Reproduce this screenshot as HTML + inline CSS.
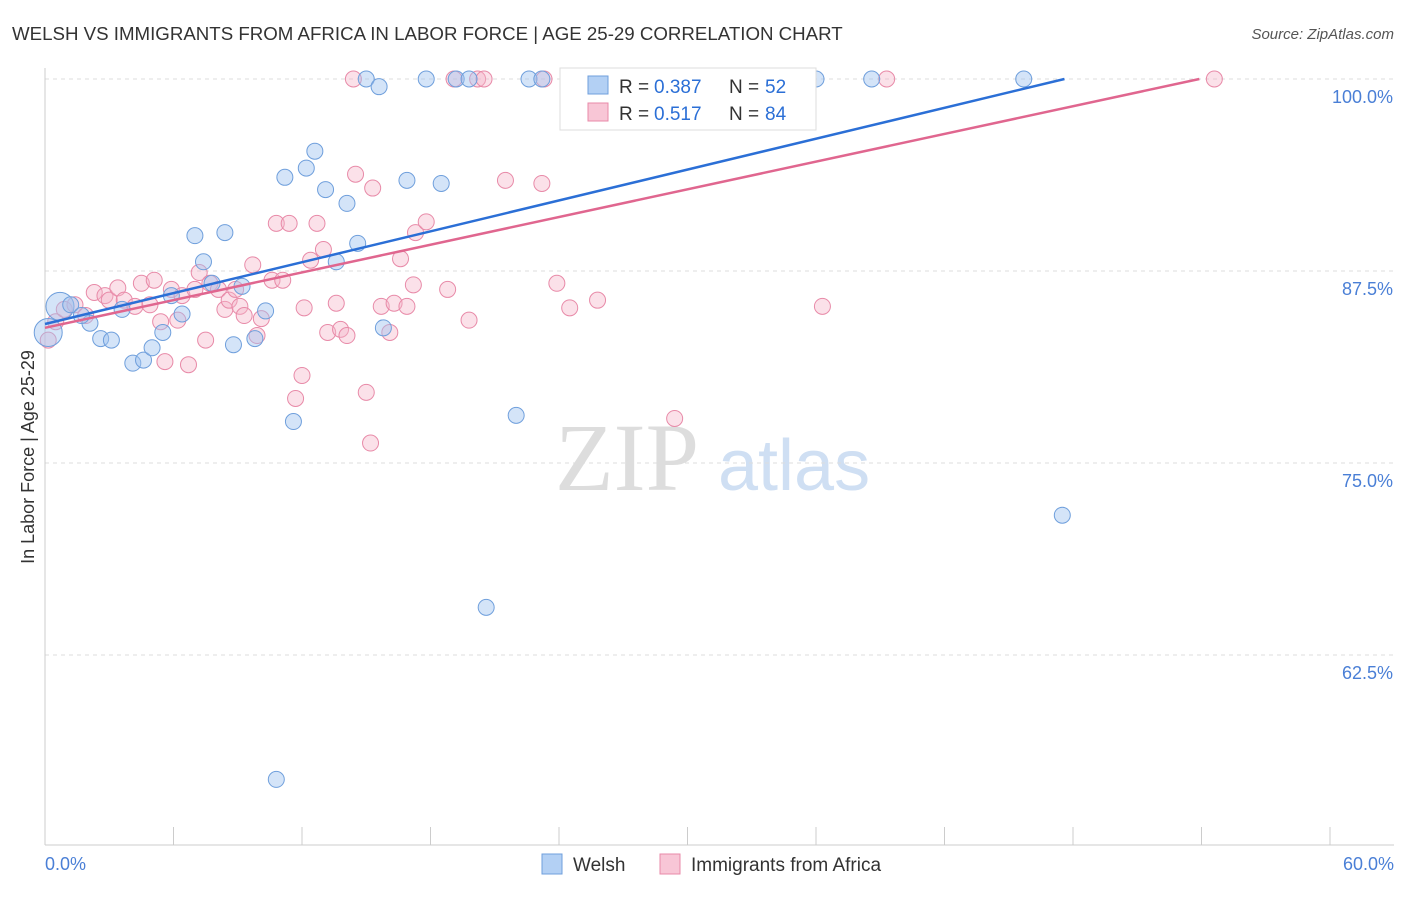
<!DOCTYPE html>
<html><head><meta charset="utf-8"><style>
body{margin:0;background:#fff;font-family:"Liberation Sans",sans-serif;}
</style></head><body>
<svg id="chart" width="1406" height="892" xmlns="http://www.w3.org/2000/svg">
<text x="12" y="40" font-size="18.7" fill="#333">WELSH VS IMMIGRANTS FROM AFRICA IN LABOR FORCE | AGE 25-29 CORRELATION CHART</text>
<text x="1394" y="39" font-size="15" fill="#555" font-style="italic" text-anchor="end">Source: ZipAtlas.com</text>
<text x="555" y="490" font-size="96" fill="#ddd" font-family="Liberation Serif,serif">ZIP</text>
<text x="718" y="490" font-size="72" fill="#cfdff3">atlas</text>
<text transform="translate(34,457) rotate(-90)" font-size="18" fill="#333" text-anchor="middle">In Labor Force | Age 25-29</text>
<g id="grid"></g><g id="ticks"></g><g id="pts"></g><g id="lines"></g>
<g>
<rect x="560" y="68" width="256" height="62" fill="#fff" stroke="#ddd"/>
<rect x="588" y="76" width="20" height="18" fill="#b3d0f4" stroke="#6f9fdc"/>
<text x="619" y="93" font-size="19" fill="#333">R = </text>
<text x="654" y="93" font-size="19" fill="#2b6fd6">0.387</text>
<text x="729" y="93" font-size="19" fill="#333">N = </text>
<text x="765" y="93" font-size="19" fill="#2b6fd6">52</text>
<rect x="588" y="103" width="20" height="18" fill="#f8c6d6" stroke="#e88aa8"/>
<text x="619" y="120" font-size="19" fill="#333">R = </text>
<text x="654" y="120" font-size="19" fill="#2b6fd6">0.517</text>
<text x="729" y="120" font-size="19" fill="#333">N = </text>
<text x="765" y="120" font-size="19" fill="#2b6fd6">84</text>
</g>
<rect x="542" y="854" width="20" height="20" fill="#b3d0f4" stroke="#6f9fdc"/>
<text x="573" y="871" font-size="19" fill="#333">Welsh</text>
<rect x="660" y="854" width="20" height="20" fill="#f8c6d6" stroke="#e88aa8"/>
<text x="691" y="871" font-size="19" fill="#333">Immigrants from Africa</text>
<text x="45" y="870" font-size="18" fill="#4a7fd6">0.0%</text>
<text x="1394" y="870" font-size="18" fill="#4a7fd6" text-anchor="end">60.0%</text>
</svg>
<script>
const yTicks=[100,87.5,75,62.5];
const yTickLabels=["100.0%","87.5%","75.0%","62.5%"];
const xTicks=[0,6,12,18,24,30,36,42,48,54,60];
const welshX=[0.7,1.2,2.1,1.7,2.6,3.1,3.6,4.1,4.6,5.0,5.5,5.9,6.4,7.0,7.4,7.8,8.4,8.8,9.2,9.8,10.3,10.8,11.2,11.6,12.2,12.6,13.1,13.6,14.1,14.6,15.0,15.6,15.8,16.9,17.8,18.5,19.2,19.8,20.6,22.0,22.6,23.2,27.5,36.0,38.6,45.7,47.5,0.15];
const welshY=[85.2,85.3,84.1,84.6,83.1,83.0,85.0,81.5,81.7,82.5,83.5,85.9,84.7,89.8,88.1,86.7,90.0,82.7,86.5,83.1,84.9,54.4,93.6,77.7,94.2,95.3,92.8,88.1,91.9,89.3,100,99.5,83.8,93.4,100,93.2,100,100,65.6,78.1,100,100,100,100,100,100,71.6,83.5];
const welshBig=[0,47];
const africaX=[0.15,0.5,0.9,1.4,1.9,2.3,2.8,3.0,3.4,3.7,4.2,4.5,4.9,5.1,5.4,5.6,5.9,6.2,6.4,6.7,7.0,7.2,7.5,7.7,8.1,8.4,8.6,8.9,9.1,9.3,9.7,9.9,10.1,10.6,10.8,11.1,11.4,11.7,12.0,12.1,12.4,12.7,13.0,13.2,13.6,13.8,14.1,14.4,14.5,15.0,15.2,15.3,15.7,16.1,16.3,16.6,16.9,17.2,17.3,17.8,18.8,19.1,19.8,20.2,20.5,21.5,23.2,23.3,23.9,24.5,25.8,29.4,29.9,36.3,39.3,54.6];
const africaY=[83.0,84.2,85.0,85.3,84.6,86.1,85.9,85.6,86.4,85.6,85.2,86.7,85.3,86.9,84.2,81.6,86.3,84.3,85.9,81.4,86.3,87.4,83.0,86.7,86.3,85.0,85.6,86.3,85.2,84.6,87.9,83.3,84.4,86.9,90.6,86.9,90.6,79.2,80.7,85.1,88.2,90.6,88.9,83.5,85.4,83.7,83.3,100,93.8,79.6,76.3,92.9,85.2,83.5,85.4,88.3,85.2,86.6,90.0,90.7,86.3,100,84.3,100,100,93.4,93.2,100,86.7,85.1,85.6,77.9,100,85.2,100,100];
const welshLine=[[0,84.05],[47.6,100]];
const africaLine=[[0,83.8],[53.9,100]];
const NS="http://www.w3.org/2000/svg";
const sx=v=>45+v/60*1285;
const sy=v=>79+(100-v)/12.5*192;
function mk(tag,attrs,parent){const e=document.createElementNS(NS,tag);for(const k in attrs)e.setAttribute(k,attrs[k]);parent.appendChild(e);return e;}
const grid=document.getElementById('grid'),ticks=document.getElementById('ticks'),pts=document.getElementById('pts'),lines=document.getElementById('lines');
yTicks.forEach((t,i)=>{
 const l=mk('line',{x1:45,x2:1394,y1:sy(t),y2:sy(t),stroke:'#ddd','stroke-dasharray':'4,4'},grid);
 
 
 const tx=mk('text',{x:1393,y:sy(t)+24,'font-size':18,fill:'#4a7fd6','text-anchor':'end'},ticks);
 tx.textContent=yTickLabels[i];
 
 
});
const ax=mk('line',{x1:45,x2:45,y1:68,y2:845,stroke:'#ccc'},ticks);


const bx=mk('line',{x1:45,x2:1394,y1:845,y2:845,stroke:'#ccc'},ticks);


xTicks.forEach(t=>{
 const l=mk('line',{x1:sx(t),x2:sx(t),y1:827,y2:845,stroke:'#ccc'},ticks);
 
 
});
function series(X,Y,fill,stroke,name,big){
 X.forEach((x,i)=>{
  const r=(big&&big.includes(i))?14:8;
  const c=mk('circle',{cx:sx(x),cy:sy(Y[i]),r:r,fill:fill,stroke:stroke,'stroke-width':1},pts);
  
  
 });
}
series(africaX,africaY,'rgba(246,180,200,0.4)','#e88aa8','africa-point');
series(welshX,welshY,'rgba(160,196,240,0.45)','#6f9fdc','welsh-point',welshBig);
const bl=mk('line',{x1:sx(welshLine[0][0]),y1:sy(welshLine[0][1]),x2:sx(welshLine[1][0]),y2:sy(welshLine[1][1]),stroke:'#2b6fd6','stroke-width':2.5},lines);


const pl=mk('line',{x1:sx(africaLine[0][0]),y1:sy(africaLine[0][1]),x2:sx(africaLine[1][0]),y2:sy(africaLine[1][1]),stroke:'#e0668f','stroke-width':2.5},lines);


</script>
</body></html>
